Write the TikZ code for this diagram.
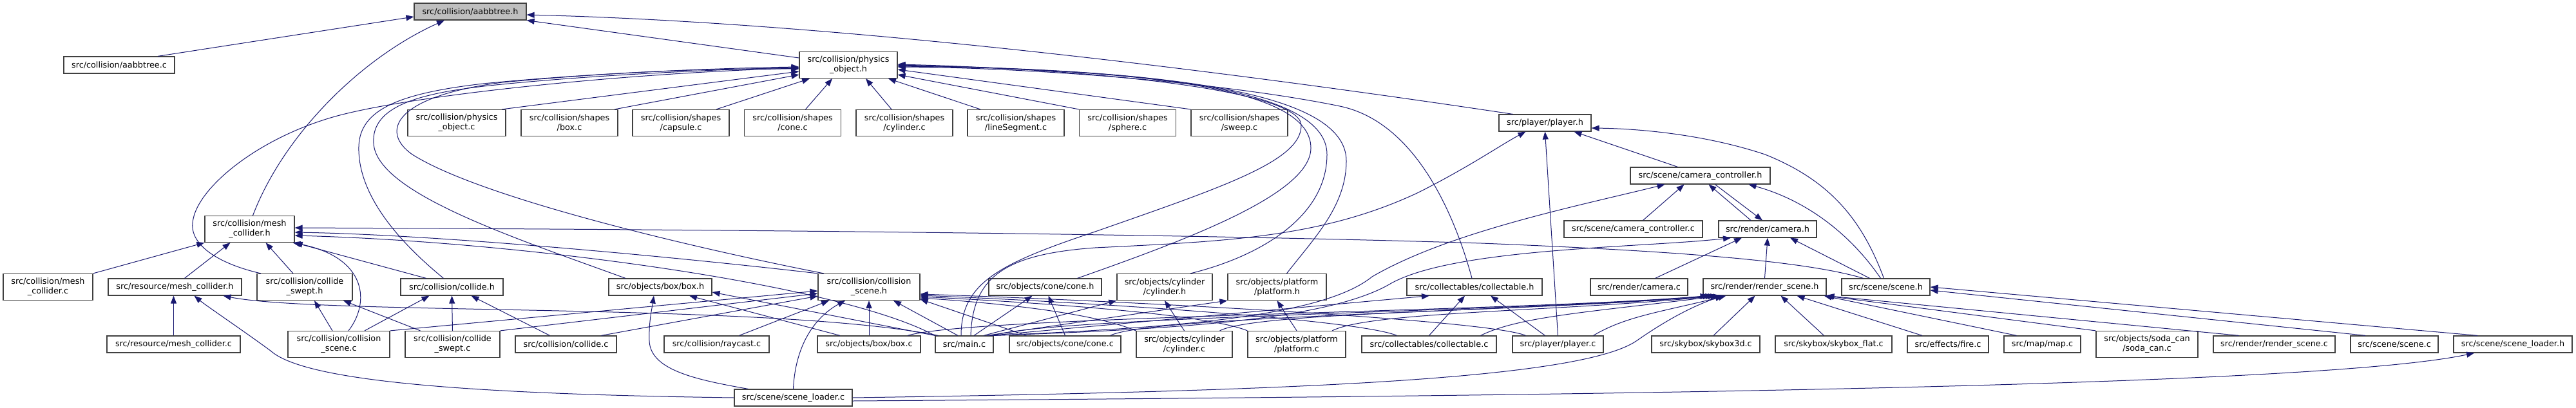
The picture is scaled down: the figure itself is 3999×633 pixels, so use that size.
\documentclass[tikz,border=0pt]{standalone}
\usepackage{fontspec}
\setmainfont{DejaVu Sans}
\usepackage{tikz}
\usetikzlibrary{arrows.meta}
\definecolor{edgeblue}{RGB}{25,25,112}
\definecolor{boxline}{RGB}{64,64,64}
\definecolor{focusgrey}{RGB}{191,191,191}
\tikzset{
  fnode/.style={rectangle,draw=boxline,fill=white,minimum width=#1,minimum height=26pt,
    inner sep=0pt,align=center,line width=1.2pt,font=\fontsize{12.8}{15}\selectfont},
  fnode/.default=150pt,
  twoline/.style={minimum height=41pt},
  focus/.style={fill=focusgrey},
  inc/.style={-{Triangle[length=12pt,width=9pt]},line width=1pt,color=edgeblue}
}

\begin{document}
\begin{tikzpicture}[x=1pt,y=-1pt]
\useasboundingbox (0,0) rectangle (3999,633);

\node[fnode=174pt,focus] (aabbh) at (730,18) {src/collision/aabbtree.h};
\node[fnode=172pt] (aabbc) at (185,101) {src/collision/aabbtree.c};
\node[fnode=152pt,twoline] (physh) at (1317,101) {src/collision/physics\\\_object.h};

\node[fnode=152pt,twoline] (physc) at (709,191) {src/collision/physics\\\_object.c};
\node[fnode,twoline] (sbox) at (884,191) {src/collision/shapes\\/box.c};
\node[fnode,twoline] (scapsule) at (1057,191) {src/collision/shapes\\/capsule.c};
\node[fnode,twoline] (scone) at (1230.5,191) {src/collision/shapes\\/cone.c};
\node[fnode,twoline] (scyl) at (1404,191) {src/collision/shapes\\/cylinder.c};
\node[fnode,twoline] (sline) at (1577,191) {src/collision/shapes\\/lineSegment.c};
\node[fnode,twoline] (ssphere) at (1750.5,191) {src/collision/shapes\\/sphere.c};
\node[fnode,twoline] (ssweep) at (1924,191) {src/collision/shapes\\/sweep.c};
\node[fnode=143pt] (playerh) at (2398.5,191) {src/player/player.h};

\node[fnode=217pt] (camctrlh) at (2639.5,273) {src/scene/camera\_controller.h};

\node[fnode=139pt,twoline] (meshh) at (387.5,356) {src/collision/mesh\\\_collider.h};
\node[fnode=215pt] (camctrlc) at (2535.5,356) {src/scene/camera\_controller.c};
\node[fnode=152pt] (camerah) at (2744,356) {src/render/camera.h};

\node[fnode=139pt,twoline] (meshc) at (74.5,446) {src/collision/mesh\\\_collider.c};
\node[fnode=207pt] (resmeshh) at (271.5,446) {src/resource/mesh\_collider.h};
\node[fnode=148pt,twoline] (sweph) at (473,446) {src/collision/collide\\\_swept.h};
\node[fnode=159pt] (collideh) at (701.5,446) {src/collision/collide.h};
\node[fnode=160pt] (boxh) at (1025,446) {src/objects/box/box.h};
\node[fnode=158pt,twoline] (cscnh) at (1349,446) {src/collision/collision\\\_scene.h};
\node[fnode=175pt] (coneh) at (1622.5,446) {src/objects/cone/cone.h};
\node[fnode=148pt,twoline] (cylh) at (1808,446) {src/objects/cylinder\\/cylinder.h};
\node[fnode=153pt,twoline] (plath) at (1982.5,446) {src/objects/platform\\/platform.h};
\node[fnode=210pt] (collh) at (2289,446) {src/collectables/collectable.h};
\node[fnode=151pt] (camerac) at (2544.5,446) {src/render/camera.c};
\node[fnode=191pt] (rsh) at (2739.5,446) {src/render/render\_scene.h};
\node[fnode=137pt] (sceneh) at (2927.5,446) {src/scene/scene.h};

\node[fnode=207pt] (resmeshc) at (269.5,535) {src/resource/mesh\_collider.c};
\node[fnode=158pt,twoline] (cscnc) at (526,535) {src/collision/collision\\\_scene.c};
\node[fnode=147pt,twoline] (swepc) at (702.5,535) {src/collision/collide\\\_swept.c};
\node[fnode=157pt] (collidec) at (878.5,535) {src/collision/collide.c};
\node[fnode=163pt] (raycastc) at (1112.5,535) {src/collision/raycast.c};
\node[fnode=160pt] (boxc) at (1349,535) {src/objects/box/box.c};
\node[fnode=90pt] (mainc) at (1497,535) {src/main.c};
\node[fnode=173pt] (conec) at (1653.5,535) {src/objects/cone/cone.c};
\node[fnode=149pt,twoline] (cylc) at (1838.5,535) {src/objects/cylinder\\/cylinder.c};
\node[fnode=152pt,twoline] (platc) at (2013,535) {src/objects/platform\\/platform.c};
\node[fnode=209pt] (collc) at (2218.5,535) {src/collectables/collectable.c};
\node[fnode=141pt] (playerc) at (2418.5,535) {src/player/player.c};
\node[fnode=168pt] (sky3d) at (2648,535) {src/skybox/skybox3d.c};
\node[fnode=181pt] (skyflat) at (2846.5,535) {src/skybox/skybox\_flat.c};
\node[fnode=126pt] (firec) at (3024,535) {src/effects/fire.c};
\node[fnode=119pt] (mapc) at (3170.5,535) {src/map/map.c};
\node[fnode=158pt,twoline] (sodac) at (3333,535) {src/objects/soda\_can\\/soda\_can.c};
\node[fnode=189pt] (rsc) at (3530.5,535) {src/render/render\_scene.c};
\node[fnode=136pt] (scenec) at (3717,535) {src/scene/scene.c};
\node[fnode=184pt] (sldh) at (3901,535) {src/scene/scene\_loader.h};

\node[fnode=183pt] (sldc) at (1231.5,618) {src/scene/scene\_loader.c};

% aabbtree.h
\draw[inc] ([xshift=60pt]aabbc.north) -- ([yshift=-8pt]aabbh.west);
\draw[inc] ([xshift=5pt]meshh.north) .. controls (440,210) and (560,90) .. ([xshift=-40pt]aabbh.south);
\draw[inc] ([yshift=11pt]physh.west) -- (aabbh.south east);
\draw[inc] ([xshift=-50pt]playerh.north) .. controls (1900,110) and (1300,35) .. ([yshift=-5pt]aabbh.east);

% physics_object.h
\draw[inc] ([xshift=70pt]physc.north) -- ([yshift=-10pt]physh.west);
\draw[inc] ([xshift=70pt]sbox.north) -- ([yshift=-15pt]physh.west);
\draw[inc] ([xshift=55pt]scapsule.north) -- ([xshift=-60pt]physh.south);
\draw[inc] ([xshift=20pt]scone.north) -- ([xshift=-25pt]physh.south);
\draw[inc] ([xshift=-20pt]scyl.north) -- ([xshift=27pt]physh.south);
\draw[inc] ([xshift=-55pt]sline.north) -- ([xshift=62pt]physh.south);
\draw[inc] (ssphere.north west) -- ([yshift=-15pt]physh.east);
\draw[inc] (ssweep.north west) -- ([yshift=-7pt]physh.east);
\draw[inc] ([xshift=-68pt]sweph.north) .. controls (340,410) and (290,380) .. (300,340) .. controls (310,290) and (400,215) .. (520,181) .. controls (650,145) and (1000,112) .. ([yshift=-5pt]physh.west);
\draw[inc] ([xshift=-13pt]collideh.north) .. controls (600,360) and (555,290) .. (557,227) .. controls (559,170) and (620,145) .. (750,130) .. controls (900,115) and (1100,106) .. ([yshift=-3pt]physh.west);
\draw[inc] ([xshift=-54pt]boxh.north) .. controls (800,370) and (585,300) .. (580,223) .. controls (576,165) and (650,145) .. (760,133) .. controls (900,118) and (1100,108) .. ([yshift=-4pt]physh.west);
\draw[inc] ([xshift=-70pt]cscnh.north) .. controls (1100,390) and (750,310) .. (640,240) .. controls (590,205) and (610,150) .. (780,128) .. controls (950,112) and (1100,106) .. ([yshift=-6pt]physh.west);
\draw[inc] ([xshift=-5pt]mainc.north) .. controls (1492,440) and (1550,410) .. (1700,360) .. controls (1900,290) and (2020,250) .. (2020,195) .. controls (2020,140) and (1700,108) .. ([yshift=1pt]physh.east);
\draw[inc] ([xshift=50pt]coneh.north) .. controls (1850,370) and (2035,300) .. (2035,230) .. controls (2035,130) and (1750,110) .. (physh.east);
\draw[inc] ([xshift=40pt]cylh.north) .. controls (1950,400) and (2060,340) .. (2060,240) .. controls (2060,140) and (1800,108) .. ([yshift=-1pt]physh.east);
\draw[inc] ([xshift=15pt]plath.north) .. controls (2040,370) and (2090,320) .. (2090,250) .. controls (2090,150) and (1850,108) .. ([yshift=-2pt]physh.east);
\draw[inc] ([xshift=-4pt]collh.north) .. controls (2260,340) and (2200,190) .. (2080,165) .. controls (1900,128) and (1600,105) .. ([yshift=-3pt]physh.east);

% mesh_collider.h
\draw[inc] (meshc.north east) -- (meshh.south west);
\draw[inc] ([xshift=15pt]resmeshh.north) -- ([xshift=-30pt]meshh.south);
\draw[inc] ([xshift=-18pt]sweph.north) -- ([xshift=25pt]meshh.south);
\draw[inc] ([xshift=-40pt]collideh.north) -- (meshh.south east);
\draw[inc] (cscnh.north west) .. controls (1100,405) and (700,365) .. ([yshift=-5pt]meshh.east);
\draw[inc] (mainc.north west) .. controls (1300,440) and (800,375) .. ([yshift=-10pt]meshh.east);
\draw[inc] ([xshift=-35pt]sceneh.north) .. controls (2800,405) and (2600,390) .. (2300,378) .. controls (1800,362) and (1000,356) .. ([yshift=2pt]meshh.east);
\draw[inc] ([xshift=15pt]cscnc.north) .. controls (575,470) and (570,400) .. ([xshift=-3pt]meshh.south east);

% resource/mesh_collider.h
\draw[inc] (resmeshc.north) -- ([xshift=-2pt]resmeshh.south);
\draw[inc] (sldc.west) .. controls (700,612) and (470,590) .. (420,545) .. controls (375,512) and (320,475) .. ([xshift=30pt]resmeshh.south);
\draw[inc] ([xshift=5pt]mainc.north west) .. controls (1200,470) and (500,490) .. ([xshift=75pt]resmeshh.south);

% collide_swept.h, collide.h
\draw[inc] ([xshift=-10pt]cscnc.north) -- ([xshift=15pt]sweph.south);
\draw[inc] ([xshift=-50pt]swepc.north) -- ([xshift=60pt]sweph.south);
\draw[inc] ([xshift=40pt]cscnc.north) -- ([xshift=-35pt]collideh.south);
\draw[inc] (swepc.north) -- (collideh.south);
\draw[inc] ([xshift=-25pt]collidec.north) -- ([xshift=30pt]collideh.south);

% collision_scene.h
\draw[inc] (cscnc.north east) -- ([yshift=-6pt]cscnh.west);
\draw[inc] (swepc.north east) -- ([yshift=-10pt]cscnh.west);
\draw[inc] ([xshift=55pt]collidec.north) -- ([yshift=-14pt]cscnh.west);
\draw[inc] ([xshift=35pt]raycastc.north) -- ([xshift=-62pt]cscnh.south);
\draw[inc] (sldc.north) .. controls (1235,530) and (1270,490) .. ([xshift=-37pt]cscnh.south);
\draw[inc] (boxc.north) -- (cscnh.south);
\draw[inc] ([xshift=-10pt]mainc.north) -- ([xshift=38pt]cscnh.south);
\draw[inc] ([xshift=-60pt]conec.north) -- ([yshift=-19pt]cscnh.east);
\draw[inc] (cylc.north west) .. controls +(-60,-25) and +(150,10) .. ([yshift=-17pt]cscnh.east);
\draw[inc] (platc.north west) .. controls +(-60,-25) and +(200,10) .. ([yshift=-15pt]cscnh.east);
\draw[inc] ([xshift=-50pt]collc.north) .. controls +(-60,-25) and +(250,10) .. ([yshift=-13pt]cscnh.east);
\draw[inc] ([xshift=-50pt]playerc.north) .. controls +(-60,-25) and +(300,10) .. ([yshift=-11pt]cscnh.east);

% objects
\draw[inc] ([xshift=-45pt]boxc.north) -- ([xshift=45pt]boxh.south);
\draw[inc] (mainc.north west) -- ([yshift=-8pt]boxh.east);
\draw[inc] ([xshift=-70pt]sldc.north) .. controls (1080,590) and (1010,575) .. (1008,530) .. controls (1007,500) and (1012,480) .. ([xshift=-10pt]boxh.south);
\draw[inc] (conec.north) -- ([xshift=5pt]coneh.south);
\draw[inc] ([xshift=15pt]mainc.north) -- ([xshift=-20pt]coneh.south);
\draw[inc] (cylc.north) -- (cylh.south);
\draw[inc] ([xshift=30pt]mainc.north) -- (cylh.south west);
\draw[inc] (platc.north) -- (plath.south);
\draw[inc] ([xshift=35pt]mainc.north) -- (plath.south west);
\draw[inc] (collc.north) -- ([xshift=-15pt]collh.south);
\draw[inc] ([xshift=-20pt]playerc.north) -- ([xshift=25pt]collh.south);
\draw[inc] ([xshift=40pt]mainc.north) -- ([xshift=-70pt]collh.south);

% player.h
\draw[inc] (playerc.north) -- (playerh.south);
\draw[inc] ([xshift=-35pt]camctrlh.north) -- ([xshift=45pt]playerh.south);
\draw[inc] ([xshift=-3pt]sceneh.north) .. controls (2890,340) and (2840,280) .. (2740,240) .. controls (2650,210) and (2550,200) .. ([yshift=-8pt]playerh.east);
\draw[inc] ([xshift=10pt]mainc.north) .. controls (1510,430) and (1560,395) .. (1700,385) .. controls (1900,375) and (2050,370) .. (2200,300) .. controls (2280,260) and (2330,225) .. ([xshift=-30pt]playerh.south);

% camera_controller.h, camera.h
\draw[inc] ([xshift=15pt]camctrlc.north) -- ([xshift=-25pt]camctrlh.south);
\draw[inc] ([xshift=-26pt]camerah.north) -- ([xshift=13pt]camctrlh.south);
\draw[inc] ([xshift=-8pt]sceneh.north) .. controls (2870,360) and (2800,310) .. ([xshift=75pt]camctrlh.south);
\draw[inc] ([xshift=-3pt]mainc.north east) .. controls (1800,510) and (2050,495) .. (2130,430) .. controls (2250,360) and (2450,320) .. ([xshift=-55pt]camctrlh.south);
\draw[inc] ([xshift=23pt]camctrlh.south) -- ([xshift=-8pt]camerah.north);
\draw[inc] ([xshift=25pt]camerac.north) -- ([xshift=-40pt]camerah.south);
\draw[inc] (rsh.north) -- (camerah.south);
\draw[inc] ([xshift=-25pt]sceneh.north) -- ([xshift=35pt]camerah.south);
\draw[inc] (mainc.north east) .. controls (1800,512) and (2060,500) .. (2160,440) .. controls (2260,385) and (2550,385) .. ([xshift=-57pt]camerah.south);

% render_scene.h
\draw[inc] ([xshift=12pt]sky3d.north) -- ([xshift=-15pt]rsh.south);
\draw[inc] ([xshift=-15pt]skyflat.north) -- ([xshift=25pt]rsh.south);
\draw[inc] ([xshift=-40pt]firec.north) -- ([xshift=50pt]rsh.south);
\draw[inc] ([xshift=-40pt]mapc.north) -- ([xshift=-4pt]rsh.south east);
\draw[inc] (sodac.north west) -- ([xshift=-2pt]rsh.south east);
\draw[inc] ([xshift=-55pt]rsc.north) -- (rsh.south east);
\draw[inc] ([xshift=60pt]boxc.north) .. controls +(100,-30) and +(-300,25) .. ([xshift=-88pt]rsh.south);
\draw[inc] ([xshift=-2pt]mainc.north east) .. controls +(100,-30) and +(-300,25) .. ([xshift=-84pt]rsh.south);
\draw[inc] ([xshift=70pt]conec.north) .. controls +(60,-30) and +(-300,25) .. ([xshift=-80pt]rsh.south);
\draw[inc] ([xshift=55pt]cylc.north) .. controls +(60,-30) and +(-300,25) .. ([xshift=-76pt]rsh.south);
\draw[inc] ([xshift=55pt]platc.north) .. controls +(60,-30) and +(-250,25) .. ([xshift=-72pt]rsh.south);
\draw[inc] ([xshift=80pt]collc.north) .. controls +(60,-30) and +(-200,25) .. ([xshift=-68pt]rsh.south);
\draw[inc] ([xshift=55pt]playerc.north) .. controls +(50,-30) and +(-100,25) .. ([xshift=-60pt]rsh.south);
\draw[inc] (sldc.east) .. controls (2000,608) and (2450,590) .. (2540,530) .. controls (2590,495) and (2630,475) .. ([xshift=-65pt]rsh.south);

% scene.h, scene_loader.h
\draw[inc] ([xshift=-45pt]scenec.north) -- ([yshift=-5pt]sceneh.east);
\draw[inc] ([xshift=-55pt]sldh.north) -- (sceneh.east);
\draw[inc] ([yshift=-5pt]sldc.east) .. controls (2500,615) and (3600,600) .. ([xshift=-60pt]sldh.south);
\end{tikzpicture}
\end{document}
